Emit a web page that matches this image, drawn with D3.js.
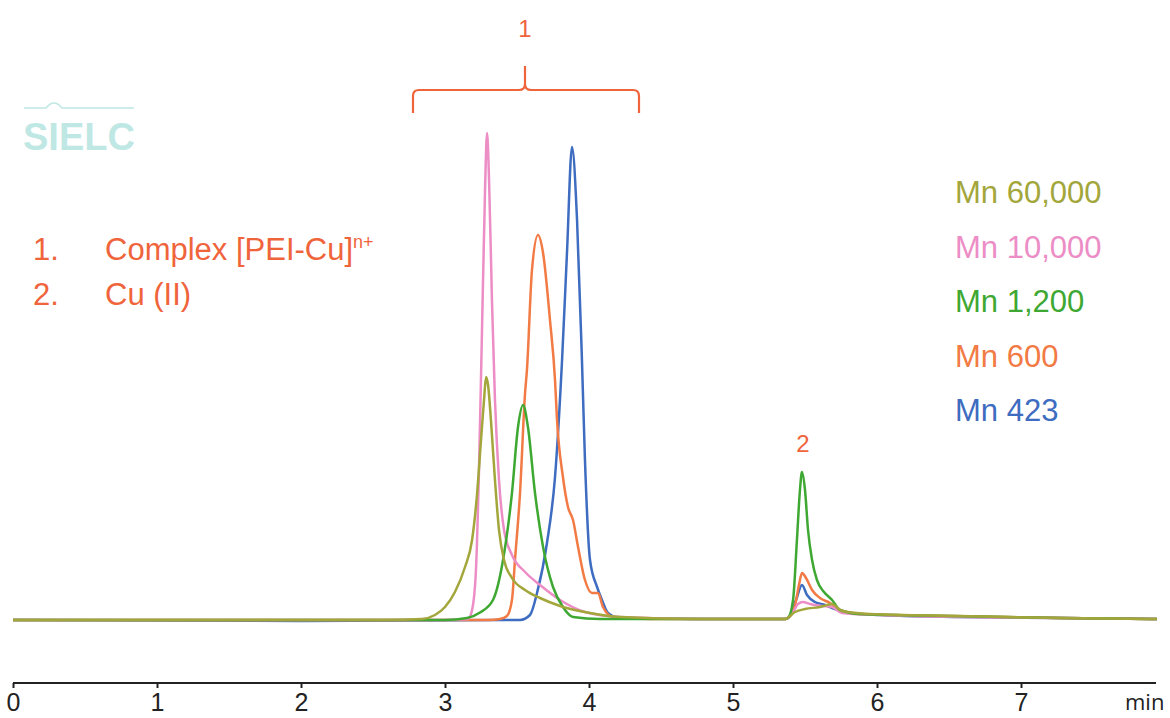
<!DOCTYPE html>
<html>
<head>
<meta charset="utf-8">
<script src="https://cdn.jsdelivr.net/npm/d3@7"></script>
<style>
  body { margin: 0; background: #fff; }
  svg { display: block; font-family: Arial, "Liberation Sans", sans-serif; }
</style>
</head>
<body>
<div id="chart"></div>
<script>
// retention time (min), signal (arbitrary units)
const mn60000 = [[0,0],[2.6,0],[2.84,0.2],[2.93,1],[3.0,2.6],[3.069,5.6],[3.139,10.6],[3.188,16],[3.222,25],[3.25,36],[3.271,44],[3.285,48.6],[3.299,47],[3.319,40],[3.347,28],[3.375,18],[3.41,12],[3.465,8.4],[3.556,6],[3.66,4.4],[3.799,2.8],[4.007,1.4],[4.215,0.6],[4.771,0.2],[5.361,0.2],[5.431,1.6],[5.5,2.2],[5.604,2.6],[5.688,3.2],[5.757,1.8],[5.951,1.2],[6.576,0.8],[7.271,0.4],[7.944,0.2]];
const mn10000 = [[0,0],[2.965,0],[3.16,0.2],[3.188,2],[3.215,10],[3.236,30],[3.257,58],[3.278,86],[3.292,97.4],[3.306,88],[3.326,64],[3.347,44],[3.375,28],[3.41,18],[3.465,13],[3.556,9.6],[3.66,7],[3.799,4],[3.972,1.6],[4.215,0.6],[4.771,0.2],[5.361,0.2],[5.41,1.2],[5.451,3.2],[5.486,3.6],[5.535,3.2],[5.618,2.8],[5.688,2.6],[5.757,1.4],[6.021,1],[6.576,0.6],[7.271,0.4],[7.944,0.2]];
const mn1200 = [[0,0],[3.0,0],[3.153,0.4],[3.243,1.5],[3.333,4],[3.403,12],[3.465,25.4],[3.507,38.6],[3.542,43],[3.576,38.6],[3.625,25.4],[3.681,14.6],[3.75,6.6],[3.819,2.6],[3.889,0.6],[4.076,0.2],[5.361,0.2],[5.382,0.4],[5.417,4],[5.444,16],[5.465,26],[5.479,29.6],[5.5,26],[5.521,18],[5.549,12],[5.583,8],[5.632,5.6],[5.688,4],[5.743,2],[5.882,1.2],[6.507,0.8],[7.271,0.4],[7.944,0.2]];
const mn600 = [[0,0],[3.3,0],[3.382,0.2],[3.43,0.8],[3.465,4],[3.486,12],[3.521,25.4],[3.556,45.4],[3.569,50],[3.604,70],[3.646,77],[3.681,73.4],[3.729,60],[3.764,48],[3.778,40],[3.819,28.6],[3.854,22.6],[3.889,20],[3.924,14.6],[3.972,8],[4.021,5.4],[4.063,5.4],[4.097,2.6],[4.167,0.6],[4.424,0.2],[5.361,0.2],[5.382,0.4],[5.431,3],[5.458,7],[5.479,9.4],[5.507,8.4],[5.549,6],[5.604,4.4],[5.674,3.4],[5.743,2],[5.882,1.2],[6.507,0.8],[7.271,0.4],[7.944,0.2]];
const mn423 = [[0,0],[2.0,-0.2],[3.4,0],[3.521,0],[3.59,1],[3.639,5.4],[3.708,15.4],[3.764,28.6],[3.813,52],[3.847,73.4],[3.882,94.6],[3.917,80],[3.951,52],[3.972,32],[4.007,12],[4.056,6.6],[4.09,4],[4.132,1.4],[4.215,0.4],[4.771,0.2],[5.361,0.2],[5.382,0.4],[5.438,4],[5.479,7],[5.514,5],[5.569,3.6],[5.639,3],[5.708,2.2],[5.813,1.4],[6.021,1],[6.576,0.6],[7.271,0.4],[7.944,0.2]];

const seriesNames = ['Mn 60,000', 'Mn 10,000', 'Mn 1,200', 'Mn 600', 'Mn 423'];
const seriesData = [mn60000, mn10000, mn1200, mn600, mn423];
const seriesColors = ['#a3a63a', '#ec8dc6', '#3ea832', '#f27a44', '#3e6cc0'];
const drawOrder = [4, 3, 1, 2, 0];

const xTicks = [0, 1, 2, 3, 4, 5, 6, 7];
const peakLabels = ['1.', '2.'];
const peakNames = ['Complex [PEI-Cu]', 'Cu (II)'];

const WIDTH = 1170, HEIGHT = 718;
const annotColor = '#f0643c';

let svg = d3.select('#chart').append('svg')
    .attr('width', WIDTH)
    .attr('height', HEIGHT);

let x = d3.scaleLinear().domain([0, 8]).range([13, 1165]);
let y = d3.scaleLinear().domain([0, 100]).range([620, 120]);

// SIELC watermark
let logo = svg.append('g').attr('fill', '#bfe8e4').attr('stroke', '#bfe8e4');
logo.append('path')
    .attr('d', 'M24,108 L46,108 Q54,98 62,108 L134,108')
    .attr('fill', 'none')
    .attr('stroke-width', 1.6);
logo.append('text')
    .attr('x', 23)
    .attr('y', 150)
    .attr('stroke', 'none')
    .attr('font-weight', 'bold')
    .style('font-size', '38px')
    .text('SIELC');

// time axis
let axis = svg.append('g')
    .attr('transform', 'translate(0,683)')
    .call(d3.axisBottom(x).tickValues(xTicks).tickSize(5).tickSizeOuter(0).tickFormat(d3.format('d')));
axis.select('.domain').attr('stroke', '#222').attr('stroke-width', 2.2)
    .attr('d', `M${x(0)},0H1156`);
axis.selectAll('.tick line').attr('stroke', '#222').attr('stroke-width', 2);
axis.selectAll('.tick text')
    .attr('y', 10)
    .attr('fill', '#222')
    .style('font-size', '25px')
    .style('font-family', 'Arial, "Liberation Sans", sans-serif');

svg.append('text')
    .attr('x', 1125)
    .attr('y', 710)
    .attr('fill', '#222')
    .style('font-size', '22px')
    .style('font-family', '"Open Sans", "DejaVu Sans", sans-serif')
    .text('min');

// traces
let line = d3.line()
    .x(d => x(d[0]))
    .y(d => y(d[1]))
    .curve(d3.curveMonotoneX);

svg.append('g').selectAll('path')
    .data(drawOrder)
    .join('path')
    .attr('d', i => line(seriesData[i]))
    .attr('fill', 'none')
    .attr('stroke', i => seriesColors[i])
    .attr('stroke-width', 2.5)
    .attr('stroke-linejoin', 'round');

// legend (right)
svg.append('g').selectAll('text')
    .data(seriesNames)
    .join('text')
    .attr('x', 955)
    .attr('y', (d, i) => 203 + i * 54.6)
    .attr('fill', (d, i) => seriesColors[i])
    .style('font-size', '31px')
    .text(d => d);

// peak list (left)
let peaks = svg.append('g').attr('fill', annotColor).style('font-size', '31px');
peaks.selectAll('text.num')
    .data(peakLabels)
    .join('text')
    .attr('class', 'num')
    .attr('x', 33)
    .attr('y', (d, i) => 260 + i * 45)
    .text(d => d);
let names = peaks.selectAll('text.name')
    .data(peakNames)
    .join('text')
    .attr('class', 'name')
    .attr('x', 105)
    .attr('y', (d, i) => 260 + i * 45)
    .text(d => d);
names.filter((d, i) => i === 0)
    .append('tspan')
    .attr('dy', -12)
    .style('font-size', '18px')
    .text('n+');

// peak 1 brace
svg.append('path')
    .attr('d', 'M413,113 L413,96 Q413,90 419,90 L519,90 Q525,90 525,84 L525,66 M525,84 Q525,90 531,90 L633,90 Q639,90 639,96 L639,113')
    .attr('fill', 'none')
    .attr('stroke', annotColor)
    .attr('stroke-width', 2.2);

svg.append('text')
    .attr('x', 525)
    .attr('y', 37)
    .attr('text-anchor', 'middle')
    .attr('fill', annotColor)
    .style('font-size', '24px')
    .text('1');

svg.append('text')
    .attr('x', 803)
    .attr('y', 452)
    .attr('text-anchor', 'middle')
    .attr('fill', annotColor)
    .style('font-size', '24px')
    .text('2');
</script>
</body>
</html>
